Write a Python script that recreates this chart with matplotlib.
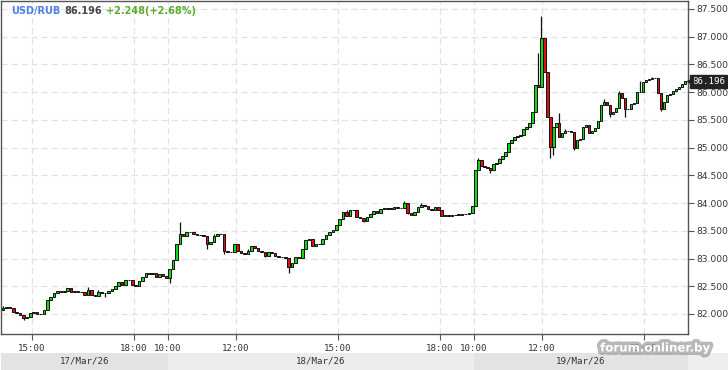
import matplotlib
matplotlib.use('Agg')
import matplotlib.pyplot as plt
import matplotlib.patheffects as pe
import matplotlib.transforms as mtrans
from matplotlib.patches import Rectangle
import numpy as np

# closes of each candle, one list per trading day
day1_close = [82.11, 82.13, 82.10, 82.03, 82.01, 81.99, 81.92, 81.95, 82.02, 82.03,
              82.00, 82.00, 82.08, 82.25, 82.30, 82.38, 82.41, 82.40, 82.41, 82.46,
              82.40, 82.41, 82.40, 82.39, 82.35, 82.43, 82.35, 82.32, 82.40, 82.38,
              82.37, 82.42, 82.45, 82.50, 82.58, 82.53, 82.61, 82.61, 82.52, 82.51,
              82.60, 82.67, 82.73, 82.72, 82.73, 82.67, 82.72, 82.69, 82.64]
day2_close = [82.82, 82.97, 83.27, 83.45, 83.40, 83.48, 83.47, 83.45, 83.43, 83.42,
              83.41, 83.26, 83.30, 83.40, 83.45, 83.44, 83.13, 83.11, 83.12, 83.27,
              83.14, 83.10, 83.09, 83.14, 83.22, 83.19, 83.14, 83.12, 83.05, 83.11,
              83.10, 83.05, 83.03, 83.02, 83.01, 82.85, 82.92, 83.03, 83.01, 83.17,
              83.33, 83.36, 83.23, 83.26, 83.27, 83.35, 83.42, 83.48, 83.52, 83.60,
              83.72, 83.84, 83.76, 83.87, 83.88, 83.74, 83.73, 83.68, 83.75, 83.80,
              83.85, 83.83, 83.90, 83.90, 83.91, 83.90, 83.93, 83.92, 83.91, 84.01,
              83.83, 83.78, 83.84, 83.93, 83.97, 83.95, 83.90, 83.87, 83.93, 83.87,
              83.76, 83.78, 83.77, 83.78, 83.79, 83.79, 83.80, 83.80, 83.82, 83.95]
day3_close = [84.60, 84.77, 84.66, 84.65, 84.63, 84.60, 84.70, 84.72, 84.79, 84.84,
              84.93, 85.09, 85.14, 85.20, 85.21, 85.23, 85.33, 85.38, 85.44, 85.65,
              86.13, 86.10, 86.97, 86.37, 85.56, 85.02, 85.38, 85.44, 85.20, 85.26,
              85.30, 85.30, 85.28, 84.99, 85.13, 85.16, 85.38, 85.40, 85.27, 85.30,
              85.35, 85.48, 85.77, 85.83, 85.77, 85.60, 85.65, 85.71, 85.99, 85.89,
              85.69, 85.70, 85.78, 85.80, 86.00, 86.01, 86.19, 86.22, 86.24, 86.25,
              86.26, 85.98, 85.70, 85.82, 85.95, 85.96, 86.03, 86.06, 86.10, 86.15,
              86.196]
first_open = 82.08

# wick extremes that stick out of the bodies (candle number -> price)
wick_high = {0: 82.14, 25: 82.49, 28: 82.44, 52: 83.65, 62: 83.44, 72: 83.18,
             101: 83.88, 118: 84.03, 123: 84.00, 140: 84.81, 147: 84.81,
             160: 86.70, 161: 87.37, 167: 85.62, 169: 85.33, 182: 85.87,
             187: 86.02, 194: 86.21, 198: 86.28}
wick_low = {6: 81.90, 30: 82.30, 49: 82.55, 60: 83.18, 65: 83.08, 77: 83.02,
            84: 82.74, 106: 83.65, 119: 83.80, 144: 84.55, 164: 84.81,
            165: 84.87, 172: 84.95, 184: 85.55, 189: 85.55, 201: 85.66}

day_labels = ['17/Mar/26', '18/Mar/26', '19/Mar/26']
# trading hours covered by each day (10:00 of day one = 0, sessions back to back)
day_spans = [(4.1, 9.0), (9.0, 18.0), (18.0, 24.25)]
tick_pos = [5, 8, 9, 11, 14, 17, 18, 20, 23]
tick_lab = ['15:00', '18:00', '10:00', '12:00', '15:00', '18:00', '10:00', '12:00', '15:00']
last_price = 86.196
change_txt = '+2.248(+2.68%)'

t, w = [], []
for (a, b), c in zip(day_spans, [day1_close, day2_close, day3_close]):
    step = (b - a) / len(c)
    t += [a + step * (i + 0.5) for i in range(len(c))]
    w += [step * 0.8] * len(c)
t = np.array(t)
closes = np.array(day1_close + day2_close + day3_close)
opens = np.r_[first_open, closes[:-1]]
highs = np.maximum(opens, closes)
lows = np.minimum(opens, closes)
for k, v in wick_high.items():
    highs[k] = max(highs[k], v)
for k, v in wick_low.items():
    lows[k] = min(lows[k], v)

W, H = 728, 370
mono = 'DejaVu Sans Mono'
fig = plt.figure(figsize=(W / 100, H / 100), dpi=100)
ax = fig.add_axes([1 / W, 36 / H, 687 / W, 333 / H])

x0, x1 = 5 - 31 / 34, 5 + 656 / 34
ax.set_xlim(x0, x1)
ax.set_ylim(87.5 - 325 / 55.45, 87.5 + 8 / 55.45)

up = closes >= opens
ax.vlines(t, lows, highs, color='#111111', lw=0.9, zorder=2)
body = np.maximum(np.abs(closes - opens), 0.004)
ax.bar(t, body, bottom=np.minimum(opens, closes), width=w,
       color=np.where(up, '#12d812', '#e01010'), edgecolor='#111111',
       linewidth=0.7, zorder=3)

ax.set_axisbelow(True)
ax.grid(True, color='#e2e2e2', linestyle=(0, (5, 3)), lw=0.9)
ax.set_xticks(tick_pos)
ax.set_xticklabels(tick_lab, family=mono)
ax.set_yticks(np.arange(82.0, 87.51, 0.5))
ax.yaxis.set_major_formatter(matplotlib.ticker.FormatStrFormatter('%.3f'))
for lab in ax.get_yticklabels():
    lab.set_family(mono)
ax.yaxis.tick_right()
ax.tick_params(axis='both', direction='out', length=4, width=0.8, color='#555555',
               labelsize=6.6, labelcolor='#333333', pad=2)
ax.tick_params(axis='x', pad=3)
for s in ax.spines.values():
    s.set_color('#555555')
    s.set_linewidth(1)

# last price tag
tr = mtrans.blended_transform_factory(ax.transAxes, ax.transData)
ax.text(1 + 4 / 687, last_price, '%.3f' % last_price, transform=tr, ha='left', va='center',
        fontsize=6.6, family=mono, color='white', zorder=6,
        bbox=dict(boxstyle='square,pad=0.2', fc='#222222', ec='#222222'))
ax.plot([1 + 1.5 / 687], [last_price], transform=tr, marker='<', ms=5, color='#222222',
        clip_on=False, zorder=6)

# date band
bax = fig.add_axes([1 / W, 0, 687 / W, 17 / H])
bax.set_xlim(x0, x1)
bax.set_ylim(0, 1)
bax.axis('off')
band_cols = ['#e3e3e3', '#ececec', '#e3e3e3']
for i, ((a, b), lab, col) in enumerate(zip(day_spans, day_labels, band_cols)):
    lo = x0 if i == 0 else a
    hi = x1 if i == len(day_labels) - 1 else b
    bax.axvspan(lo, hi, color=col, lw=0)
    bax.text((lo + hi) / 2, 0.5, lab, ha='center', va='center', fontsize=6.6,
             family=mono, color='#333333')
fig.patches.append(Rectangle((688 / W, 0), 40 / W, 17 / H, transform=fig.transFigure,
                             color='#eeeeee', lw=0, zorder=0))

# header
fig.canvas.draw()
r = fig.canvas.get_renderer()
x = 11 / W
for s, col in [('USD/RUB', '#4d7fe6'), ('%.3f' % last_price, '#444444'), (change_txt, '#5aad2c')]:
    tx = fig.text(x, 1 - 11 / H, s, ha='left', va='center', fontsize=7, fontweight='bold', color=col)
    x = fig.transFigure.inverted().transform(tx.get_window_extent(r))[1][0] + 4 / W

# watermark
fig.text(655 / W, 1 - 348 / H, 'forum.onliner.by', ha='center', va='center', fontsize=8.5,
         fontweight='bold', color='white', zorder=10,
         path_effects=[pe.Stroke(linewidth=5, foreground='#9a9a9a', alpha=0.7), pe.Normal()])

fig.savefig('out.png', dpi=100)
